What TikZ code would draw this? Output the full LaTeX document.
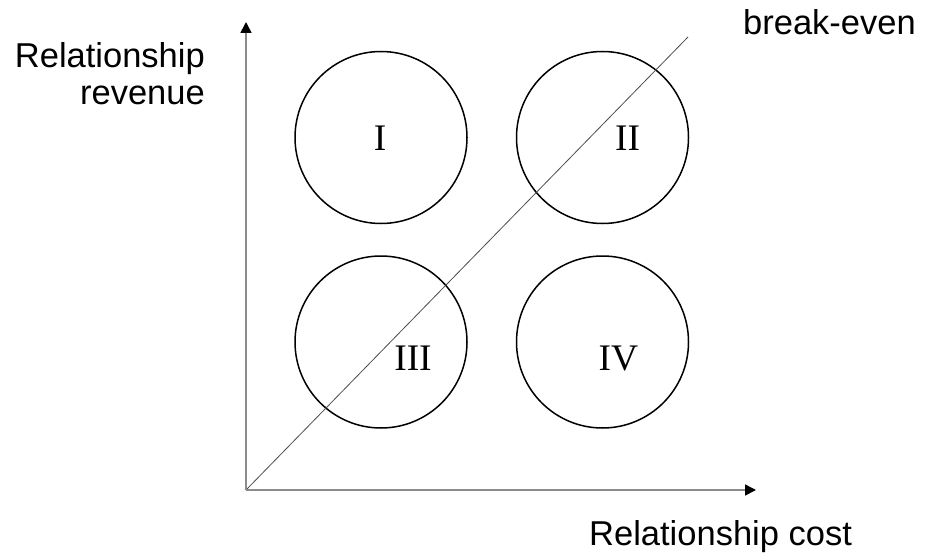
\documentclass[tikz,border=0pt]{standalone}
\usepackage{fontspec}
\setmainfont{Liberation Serif}
\newfontfamily\arialf{Liberation Sans}
\usetikzlibrary{arrows.meta}
\begin{document}
\begin{tikzpicture}[x=1pt,y=-1pt,
  axis/.style={draw=black!45,line width=1.6pt,-{Triangle[length=11pt,width=11pt,color=black]}},
  diag/.style={draw=black!70,line width=0.8pt},
  zone/.style={circle,draw=black,line width=1.5pt,minimum size=172pt,inner sep=0pt},
  roman/.style={font=\fontsize{37.5}{42}\selectfont,inner sep=0pt},
  lbl/.style={font=\arialf\fontsize{34.5}{40}\selectfont,inner sep=0pt}]
\useasboundingbox (0,0) rectangle (926,556);
\coordinate (O) at (246,490);
\coordinate (Ytip) at (246,22);
\coordinate (Xtip) at (756,490);
\coordinate (BE) at (688,37);
\node[zone] (c1) at (381,137.5) {};
\node[zone] (c2) at (602.5,137.5) {};
\node[zone] (c3) at (381,342) {};
\node[zone] (c4) at (602.5,342) {};
\draw[diag] (O) -- (BE);
\draw[axis] (O) -- (Ytip);
\draw[axis] (O) -- (Xtip);
\node[roman,anchor=base] (t1) at (380,150.5) {I};
\node[roman,anchor=base] (t2) at (627.5,150.5) {II};
\node[roman,anchor=base] (t3) at (413,370) {III};
\node[roman,anchor=base] (t4) at (618.5,370) {IV};
\node[lbl,anchor=base east] (rr1) at (205,68) {Relationship};
\node[lbl,anchor=base east] (rr2) at (205,105) {revenue};
\node[lbl,anchor=base west] (be) at (743,35) {break-even};
\node[lbl,anchor=base west] (rc) at (589,545) {Relationship cost};
\end{tikzpicture}
\end{document}
